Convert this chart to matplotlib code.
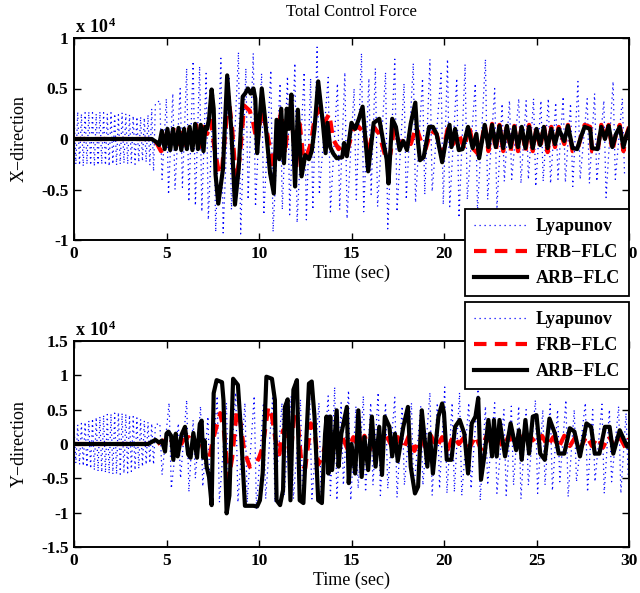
import numpy as np
import matplotlib
matplotlib.use("Agg")
import matplotlib.pyplot as plt
from matplotlib.lines import Line2D

plt.rcParams.update({"font.family": ["Liberation Serif", "DejaVu Serif"],
                     "axes.unicode_minus": False,
                     "mathtext.fontset": "custom",
                     "mathtext.rm": "Liberation Serif",
                     "mathtext.bf": "Liberation Serif:bold"})

# all forces in units of 1e4 N
# Lyapunov: fast oscillation band (0-4.4 s, one extremum every 0.1 s) then bursts
LY_X_BAND = [0.26, -0.25, 0.27, -0.26, 0.25, -0.27, 0.26, -0.25, 0.27, -0.26,
             0.26, -0.27, 0.25, -0.26, 0.27, -0.25, 0.26, -0.26, 0.25, -0.27,
             0.26, -0.25, 0.25, -0.26, 0.24, -0.25, 0.26, -0.24, 0.25, -0.25,
             0.24, -0.24, 0.23, -0.25, 0.22, -0.23, 0.22, -0.22, 0.21, -0.23,
             0.24, -0.26, 0.30, -0.32, 0.35]
LY_X_BURST_T = [4.7, 5.05, 5.4, 5.8, 6.15, 6.5, 6.85, 7.2, 7.6, 8.0, 8.45, 8.95, 9.35, 9.75,
                10.2, 10.7, 11.2, 11.6, 12.0, 12.5, 12.85, 13.2, 13.8, 14.3, 14.7, 15.2,
                15.6, 16.0, 16.35, 16.9, 17.4, 17.9, 18.4, 18.9, 19.3, 19.9, 20.25, 20.75,
                21.2, 21.75, 22.3, 22.8, 23.2, 23.6, 24.1, 24.5, 24.9, 25.3, 25.7, 26.1,
                26.5, 26.9, 27.3, 27.8, 28.2, 28.7, 29.2, 29.7]
LY_X_BURST_HI = [0.38, 0.40, 0.45, 0.50, 0.70, 0.77, 0.72, 0.65, 0.45, 0.80, 0.60, 0.86, 0.70, 0.85,
                 0.65, 0.68, 0.55, 0.62, 0.75, 0.66, 0.60, 0.91, 0.61, 0.55, 0.66, 0.50,
                 0.85, 0.60, 0.70, 0.66, 0.79, 0.55, 0.75, 0.60, 0.79, 0.65, 0.79, 0.60,
                 0.74, 0.55, 0.79, 0.50, 0.35, 0.38, 0.40, 0.38, 0.40, 0.38, 0.40, 0.36,
                 0.42, 0.35, 0.57, 0.40, 0.45, 0.38, 0.57, 0.40]
LY_X_BURST_LO = [-0.40, -0.55, -0.50, -0.48, -0.62, -0.66, -0.72, -0.80, -0.92, -0.93, -0.70, -0.94, -0.60, -0.67,
                 -0.75, -0.92, -0.70, -0.75, -0.83, -0.80, -0.70, -0.55, -0.72, -0.70, -0.79, -0.60,
                 -0.72, -0.55, -0.67, -0.89, -0.72, -0.60, -0.63, -0.55, -0.52, -0.65, -0.67, -0.78,
                 -0.60, -0.72, -0.60, -0.70, -0.42, -0.40, -0.44, -0.40, -0.47, -0.42, -0.44, -0.40,
                 -0.43, -0.47, -0.40, -0.44, -0.42, -0.58, -0.40, -0.36]

LY_Y_BAND = [0.25, -0.28, 0.28, -0.30, 0.30, -0.32, 0.32, -0.34, 0.34, -0.36,
             0.37, -0.38, 0.39, -0.40, 0.40, -0.41, 0.42, -0.42, 0.43, -0.43,
             0.44, -0.44, 0.45, -0.44, 0.46, -0.44, 0.45, -0.43, 0.44, -0.42,
             0.42, -0.40, 0.40, -0.38, 0.38, -0.36, 0.36, -0.33, 0.34, -0.30,
             0.32, -0.28, 0.30, -0.30, 0.28]
LY_Y_BURST_T = [4.7, 5.2, 5.7, 6.15, 6.5, 6.9, 7.3, 7.8, 8.3, 8.8, 9.3, 9.8, 10.3, 10.8,
                11.3, 11.8, 12.3, 12.8, 13.3, 13.8, 14.15, 14.5, 14.9, 15.3, 15.7, 16.1,
                16.5, 16.9, 17.4, 17.8, 18.3, 18.8, 19.3, 19.7, 20.1, 20.5, 20.9, 21.4,
                21.9, 22.3, 22.8, 23.3, 23.7, 24.1, 24.5, 25.0, 25.4, 25.8, 26.2, 26.65,
                27.1, 27.7, 28.1, 28.6, 29.0, 29.5, 29.9]
LY_Y_BURST_HI = [0.30, 0.60, 0.30, 0.64, 0.35, 0.55, 0.40, 0.70, 0.60, 0.75, 0.60, 0.70, 0.60, 0.70,
                 0.60, 0.70, 0.65, 0.70, 0.60, 0.70, 0.83, 0.60, 0.78, 0.55, 0.70, 0.60,
                 0.75, 0.60, 0.68, 0.55, 0.60, 0.55, 0.75, 0.60, 0.83, 0.60, 0.75, 0.60,
                 0.80, 0.55, 0.60, 0.50, 0.55, 0.55, 0.50, 0.64, 0.50, 0.58, 0.50, 0.64,
                 0.50, 0.60, 0.50, 0.58, 0.50, 0.55, 0.45]
LY_Y_BURST_LO = [-0.45, -0.65, -0.50, -0.70, -0.50, -0.62, -0.80, -0.85, -0.80, -0.85, -0.85, -0.95, -0.80, -0.85,
                 -0.75, -0.80, -0.80, -0.80, -0.80, -0.75, -0.82, -0.60, -0.82, -0.65, -0.70, -0.60,
                 -0.75, -0.65, -0.78, -0.60, -0.70, -0.60, -0.75, -0.65, -0.72, -0.70, -0.75, -0.65,
                 -0.82, -0.60, -0.72, -0.75, -0.60, -0.80, -0.60, -0.72, -0.60, -0.68, -0.55, -0.77,
                 -0.55, -0.70, -0.55, -0.72, -0.55, -0.72, -0.50]

# (time, force) turning points
FRB_X = [(0, 0), (4.3, 0), (4.5, -0.05), (4.7, -0.12), (4.9, -0.10), (5.05, 0.10), (5.2, -0.09),
         (5.4, 0.12), (5.6, -0.10), (5.8, 0.12), (6.0, -0.10), (6.2, 0.12), (6.4, -0.08),
         (6.6, 0.14), (6.8, -0.08), (7.0, 0.12), (7.2, 0.05), (7.4, 0.18), (7.6, -0.10),
         (7.85, -0.35), (8.0, -0.30), (8.35, 0.42), (8.55, 0.10), (8.75, -0.40), (8.95, -0.20),
         (9.2, 0.33), (9.5, 0.28), (9.7, 0.15), (9.9, -0.05), (10.15, 0.30), (10.4, 0.10),
         (10.8, -0.30), (11.0, 0.05), (11.2, 0.28), (11.4, -0.15), (11.6, 0.20), (11.8, 0.15),
         (12.0, -0.30), (12.2, 0.15), (12.4, -0.20), (12.6, -0.15), (12.8, -0.05), (13.0, 0.20),
         (13.25, 0.30), (13.5, 0.15), (13.8, 0.25), (14.0, 0.00), (14.3, -0.10), (14.6, -0.05),
         (14.8, -0.10), (15.1, 0.10), (15.4, 0.12), (15.7, 0.05), (15.9, -0.15), (16.2, 0.12),
         (16.5, 0.05), (16.9, -0.22), (17.1, -0.15), (17.3, 0.10), (17.6, -0.05), (17.9, 0.00),
         (18.2, -0.05), (18.5, 0.12), (18.8, -0.05), (19.0, -0.10), (19.3, 0.08), (19.6, 0.05),
         (19.9, -0.15), (20.2, 0.10), (20.5, -0.05), (20.8, 0.05), (21.1, -0.10), (21.35, 0.14),
         (21.6, -0.10), (21.9, -0.16), (22.2, 0.15), (22.4, -0.12), (22.6, 0.15), (22.8, -0.12),
         (23.0, 0.14), (23.2, -0.12), (23.4, 0.14), (23.6, -0.12), (23.8, 0.13), (24.0, -0.12),
         (24.2, 0.13), (24.4, -0.13), (24.6, 0.14), (24.8, -0.12), (25.0, 0.12), (25.2, -0.10),
         (25.4, 0.14), (25.6, -0.13), (25.8, 0.12), (26.0, -0.08), (26.2, 0.12), (26.5, -0.05),
         (26.7, 0.14), (26.95, -0.12), (27.2, -0.12), (27.4, 0.02), (27.6, 0.14), (27.9, 0.12),
         (28.0, -0.12), (28.3, -0.13), (28.5, 0.14), (28.7, 0.00), (28.9, 0.14), (29.1, -0.12),
         (29.3, 0.05), (29.5, 0.14), (29.7, -0.12), (29.85, 0.03), (30.0, 0.12)]
ARB_X = [(0, 0), (4.2, 0), (4.45, -0.03), (4.6, -0.06), (4.75, 0.08), (4.9, -0.10), (5.05, 0.10),
         (5.2, -0.11), (5.35, 0.10), (5.5, -0.10), (5.65, 0.11), (5.8, -0.11), (5.95, 0.10),
         (6.1, -0.10), (6.25, 0.12), (6.4, -0.11), (6.55, 0.15), (6.7, -0.10), (6.85, 0.14),
         (7.0, -0.12), (7.1, 0.12), (7.2, 0.10), (7.3, 0.20), (7.44, 0.49), (7.55, 0.30),
         (7.65, -0.35), (7.8, -0.64), (8.05, -0.30), (8.28, 0.63), (8.5, 0.10), (8.7, -0.65),
         (8.9, -0.30), (9.12, 0.42), (9.25, 0.45), (9.4, 0.50), (9.55, 0.45), (9.7, 0.50),
         (9.8, 0.40), (9.9, -0.14), (10.0, 0.10), (10.15, 0.50), (10.3, 0.25), (10.6, -0.34),
         (10.8, -0.54), (10.95, 0.19), (11.1, -0.20), (11.2, 0.30), (11.35, -0.24), (11.5, 0.30),
         (11.62, 0.10), (11.75, 0.44), (11.95, -0.47), (12.1, 0.29), (12.3, -0.37), (12.5, -0.16),
         (12.7, -0.20), (12.85, -0.12), (13.0, 0.10), (13.2, 0.57), (13.45, 0.16), (13.6, -0.14),
         (13.7, 0.16), (13.85, -0.08), (14.0, -0.14), (14.2, -0.19), (14.5, -0.18), (14.6, -0.04),
         (14.75, -0.17), (15.0, 0.16), (15.2, 0.10), (15.4, 0.20), (15.6, 0.32), (15.9, -0.32),
         (16.2, 0.16), (16.5, 0.20), (16.7, -0.01), (16.9, -0.20), (17.0, -0.44), (17.2, 0.20),
         (17.4, 0.12), (17.6, -0.11), (17.8, -0.02), (18.0, -0.11), (18.2, 0.15), (18.45, 0.36),
         (18.55, 0.05), (18.7, -0.21), (18.9, -0.18), (19.2, 0.12), (19.4, 0.12), (19.6, 0.05),
         (19.9, -0.23), (20.1, -0.02), (20.3, 0.14), (20.4, -0.08), (20.6, 0.10), (20.8, -0.11),
         (21.0, -0.10), (21.3, 0.12), (21.55, -0.09), (21.75, 0.05), (21.9, -0.19), (22.2, 0.14),
         (22.4, -0.08), (22.6, 0.14), (22.8, -0.08), (23.0, 0.13), (23.2, -0.09), (23.4, 0.13),
         (23.6, -0.08), (23.8, 0.12), (24.0, -0.08), (24.2, 0.12), (24.4, -0.09), (24.6, 0.12),
         (24.8, -0.09), (25.0, 0.10), (25.2, -0.06), (25.4, 0.12), (25.6, -0.09), (25.8, 0.10),
         (26.0, -0.05), (26.2, 0.10), (26.5, -0.02), (26.7, 0.13), (26.95, -0.09), (27.2, -0.10),
         (27.4, 0.02), (27.6, 0.12), (27.9, 0.10), (28.0, -0.09), (28.3, -0.10), (28.5, 0.12),
         (28.7, 0.00), (28.9, 0.13), (29.1, -0.08), (29.3, 0.05), (29.5, 0.12), (29.7, -0.08),
         (29.85, 0.03), (30.0, 0.10)]

FRB_Y = [(0, 0), (4.5, 0), (4.8, 0.05), (5.0, -0.05), (5.3, 0.05), (5.6, -0.10), (5.9, 0.05),
         (6.2, 0.10), (6.5, -0.05), (6.8, 0.10), (7.0, -0.10), (7.3, -0.23), (7.5, 0.05),
         (7.7, 0.25), (7.9, 0.45), (8.1, 0.20), (8.35, -0.52), (8.55, -0.20), (8.8, 0.49),
         (9.0, 0.30), (9.2, -0.10), (9.5, -0.33), (9.8, -0.30), (10.0, -0.20), (10.2, -0.05),
         (10.5, 0.54), (10.7, 0.40), (10.9, 0.05), (11.1, -0.15), (11.3, 0.20), (11.5, 0.10),
         (11.7, -0.20), (11.9, 0.40), (12.1, 0.30), (12.3, -0.30), (12.5, -0.35), (12.8, 0.30),
         (13.0, 0.20), (13.2, -0.30), (13.4, -0.20), (13.6, 0.00), (13.9, 0.10), (14.2, -0.05),
         (14.5, 0.10), (14.8, -0.08), (15.1, 0.10), (15.4, -0.05), (15.7, 0.12), (16.0, -0.08),
         (16.3, 0.10), (16.6, -0.05), (16.9, 0.12), (17.2, -0.05), (17.5, 0.10), (17.8, -0.08),
         (18.1, 0.12), (18.4, -0.10), (18.7, 0.10), (19.0, -0.05), (19.3, 0.12), (19.6, -0.05),
         (19.9, 0.10), (20.2, -0.08), (20.5, 0.12), (20.8, 0.00), (21.1, 0.10), (21.4, -0.05),
         (21.7, 0.12), (22.0, -0.08), (22.3, 0.12), (22.6, 0.00), (22.9, 0.10), (23.2, -0.05),
         (23.5, 0.12), (23.8, 0.00), (24.1, 0.12), (24.4, -0.03), (24.7, 0.10), (25.0, 0.00),
         (25.3, 0.12), (25.6, -0.03), (25.9, 0.10), (26.2, -0.05), (26.5, 0.12), (26.8, -0.03),
         (27.1, 0.10), (27.4, -0.05), (27.7, 0.12), (28.0, -0.03), (28.3, 0.10), (28.6, -0.05),
         (28.9, 0.12), (29.2, -0.03), (29.5, 0.10), (29.8, -0.05), (30.0, 0.08)]
ARB_Y = [(0, 0), (4.0, 0), (4.2, 0.03), (4.4, 0.06), (4.6, 0.02), (4.75, 0.05), (4.92, -0.11),
         (5.0, 0.15), (5.1, 0.18), (5.25, 0.12), (5.37, -0.23), (5.5, 0.15), (5.6, -0.18),
         (5.82, 0.14), (6.0, 0.25), (6.17, -0.15), (6.3, -0.20), (6.45, 0.16), (6.65, -0.20),
         (6.8, 0.29), (6.9, 0.34), (6.98, -0.20), (7.05, 0.05), (7.17, -0.33), (7.3, -0.48),
         (7.44, -0.89), (7.55, 0.74), (7.71, 0.93), (8.0, 0.90), (8.08, 0.64), (8.25, -1.01),
         (8.4, -0.75), (8.6, 0.95), (8.86, 0.86), (9.0, 0.30), (9.24, -0.90), (9.7, -0.90),
         (9.9, -0.91), (10.05, -0.82), (10.2, -0.42), (10.4, 0.98), (10.7, 0.95), (10.86, 0.64),
         (10.95, -0.82), (11.14, -0.89), (11.3, -0.67), (11.4, 0.54), (11.55, 0.65), (11.7, -0.82),
         (11.86, 0.79), (12.05, 0.93), (12.2, -0.82), (12.4, -0.86), (12.7, 0.88), (12.85, 0.91),
         (13.0, 0.40), (13.2, -0.82), (13.4, -0.86), (13.57, 0.14), (13.65, 0.40), (13.75, -0.43),
         (13.85, 0.40), (13.95, -0.38), (14.2, 0.49), (14.3, -0.33), (14.45, 0.15), (14.75, 0.54),
         (14.85, -0.57), (15.0, 0.00), (15.2, -0.43), (15.37, 0.49), (15.55, -0.48), (15.7, 0.10),
         (15.9, -0.38), (16.1, 0.40), (16.3, -0.33), (16.5, 0.25), (16.65, -0.45), (16.8, 0.40),
         (17.05, 0.25), (17.2, -0.18), (17.35, 0.15), (17.5, -0.25), (17.8, 0.25), (18.05, 0.54),
         (18.2, -0.33), (18.43, -0.72), (18.6, -0.62), (18.8, 0.49), (19.1, -0.33), (19.24, 0.15),
         (19.4, -0.43), (19.7, 0.40), (19.9, 0.59), (20.0, 0.45), (20.15, -0.23), (20.4, -0.23),
         (20.6, 0.25), (20.85, 0.35), (21.1, 0.15), (21.3, -0.43), (21.5, 0.30), (21.7, 0.40),
         (21.85, 0.67), (22.0, -0.52), (22.2, -0.14), (22.4, 0.35), (22.6, -0.18), (22.7, 0.35),
         (22.85, -0.18), (23.0, 0.35), (23.3, -0.18), (23.6, 0.30), (23.9, -0.09), (24.05, 0.20),
         (24.2, -0.23), (24.4, 0.35), (24.6, -0.14), (24.8, 0.40), (25.0, 0.42), (25.2, -0.14),
         (25.45, -0.23), (25.7, 0.37), (26.0, 0.15), (26.2, -0.14), (26.5, -0.14), (26.8, 0.23),
         (27.05, 0.18), (27.35, -0.18), (27.7, 0.30), (27.95, 0.25), (28.15, -0.14), (28.4, -0.14),
         (28.7, 0.25), (28.95, 0.25), (29.15, -0.14), (29.5, 0.20), (29.9, -0.04), (30.0, 0.00)]

LABELS = ["Lyapunov", "FRB\u2212FLC", "ARB\u2212FLC"]

BAND_DT = 0.1     # spacing of the sampled band extrema
HALF = 0.06       # half-width of one burst column
BLUE, RED, BLACK = "#0000ff", "#ff0000", "#000000"
LW = 3.0


def lyap_line(band, bt, hi, lo):
    tb = np.arange(len(band)) * BAND_DT
    bt = np.asarray(bt)
    tt = np.column_stack([bt - HALF, bt + HALF]).ravel()
    vv = np.column_stack([hi, lo]).ravel()
    return np.concatenate([tb, tt]), np.concatenate([band, vv])


def draw(ax, ly, frb, arb):
    ax.plot(*ly, color=BLUE, lw=0.9, ls=(0, (1, 3)), zorder=1)
    t, v = np.array(frb).T
    ax.plot(t, v, color=RED, lw=LW, ls=(0, (3.0, 2.0)), zorder=2)
    t, v = np.array(arb).T
    ax.plot(t, v, color=BLACK, lw=LW, zorder=3, solid_joinstyle="round")


def style(ax, ylim, yticks, ylabel):
    ax.set_xlim(0, 30)
    ax.set_ylim(*ylim)
    ax.set_xticks(range(0, 31, 5))
    ax.set_yticks(yticks)
    ax.set_yticklabels([f"{v:g}" for v in yticks])
    ax.tick_params(direction="in", length=5, width=1, top=True, right=True,
                   labelsize=12.5, pad=4)
    for lab in ax.get_xticklabels() + ax.get_yticklabels():
        lab.set_fontweight("bold")
    for s in ax.spines.values():
        s.set_linewidth(1.4)
    ax.set_xlabel("Time (sec)", fontsize=13, labelpad=2)
    ax.set_ylabel(ylabel, fontsize=13)
    ax.yaxis.set_label_coords(-0.083, 0.5)
    ax.text(0.002, 1.025, r"$\mathbf{x\ 10^{4}}$", transform=ax.transAxes,
            fontsize=13, ha="left", va="baseline")


def legend(ax, top_px):
    h = [Line2D([], [], color=BLUE, lw=0.9, ls=(0, (1, 3))),
         Line2D([], [], color=RED, lw=LW, ls=(0, (3.0, 2.0))),
         Line2D([], [], color=BLACK, lw=LW)]
    leg = ax.legend(h, LABELS, loc="upper right",
                    bbox_to_anchor=(629 / 640, 1 - top_px / 593),
                    bbox_transform=ax.figure.transFigure, frameon=True, fancybox=False,
                    edgecolor="black", framealpha=1, borderaxespad=0,
                    prop=dict(weight="bold", size=13), handlelength=2.9,
                    handletextpad=0.5, labelspacing=0.5, borderpad=0.5)
    leg.get_frame().set_linewidth(1.3)
    leg.set_zorder(10)


fig = plt.figure(figsize=(6.4, 5.93), dpi=100)
ax1 = fig.add_axes([74 / 640, 1 - 240 / 593, 555 / 640, 202 / 593])
ax2 = fig.add_axes([74 / 640, 1 - 547 / 593, 555 / 640, 206 / 593])

draw(ax1, lyap_line(LY_X_BAND, LY_X_BURST_T, LY_X_BURST_HI, LY_X_BURST_LO), FRB_X, ARB_X)
draw(ax2, lyap_line(LY_Y_BAND, LY_Y_BURST_T, LY_Y_BURST_HI, LY_Y_BURST_LO), FRB_Y, ARB_Y)

style(ax1, (-1, 1), [-1, -0.5, 0, 0.5, 1], "X\u2212direction")
style(ax2, (-1.5, 1.5), [-1.5, -1, -0.5, 0, 0.5, 1, 1.5], "Y\u2212direction")
ax1.set_title("Total Control Force", fontsize=12, pad=16)

legend(ax1, 209)
legend(ax2, 302)

fig.savefig("out.png", dpi=100, facecolor="white")
